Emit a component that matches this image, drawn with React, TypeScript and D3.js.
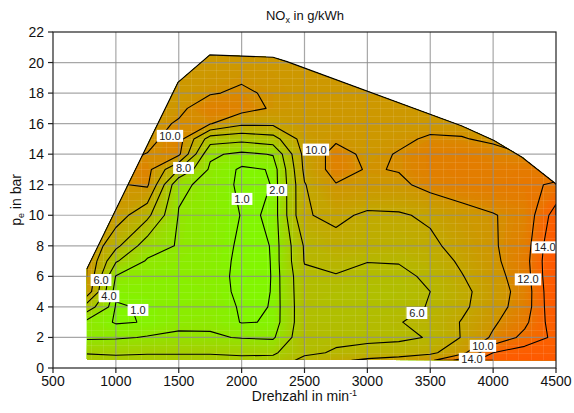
import React, { useMemo } from 'react';
import * as d3 from 'd3';

const W = 574;
const H = 413;
const PLOT = { left: 53, right: 556, top: 32, bottom: 368 };

// Grid axes of the measured map
const RPM = [750, 1000, 1250, 1500, 1750, 2000, 2250, 2500, 2750, 3000, 3250, 3500, 3750, 4000, 4250, 4500];
const PE = [0.5, 1, 2, 3, 4, 5, 6, 7, 8, 10, 12, 13, 14, 15, 16, 17, 18, 20, 22];

// NOx in g/kWh along the load axis (PE), one list per engine speed
const NOX_750 = [4.6, 3.9, 1.7, 1.8, 5.6, 10.0, 10.6, 10.5, 10.2, 9.8, 9.7, 9.6, 9.6, 9.5, 9.5, 9.5, 9.4, 9.4, 9.3];
const NOX_1000 = [4.4, 3.8, 1.8, 0.9, 0.9, 1.2, 1.9, 4.2, 6.5, 9.0, 9.8, 9.7, 9.6, 9.5, 9.5, 9.5, 9.4, 9.4, 9.3];
const NOX_1250 = [4.4, 3.9, 2.1, 1.05, 1.1, 1.25, 1.5, 1.8, 2.9, 6.5, 10.3, 10.6, 10.05, 9.5, 9.5, 9.5, 9.4, 9.4, 9.3];
const NOX_1500 = [4.4, 3.9, 2.3, 1.6, 1.4, 1.35, 1.4, 1.6, 1.85, 1.9, 2.3, 6.0, 10.4, 10.8, 10.15, 9.7, 9.4, 9.4, 9.3];
const NOX_1750 = [4.4, 3.9, 2.2, 1.7, 1.5, 1.4, 1.4, 1.4, 1.45, 1.5, 1.6, 1.7, 2.3, 5.0, 10.1, 10.8, 9.9, 9.4, 9.3];
const NOX_2000 = [4.3, 3.8, 1.9, 0.95, 0.9, 0.8, 0.75, 0.8, 0.85, 0.97, 0.8, 0.85, 1.6, 4.6, 8.4, 10.7, 10.2, 9.5, 9.3];
const NOX_2250 = [4.6, 3.7, 1.75, 1.05, 1.02, 1.02, 1.02, 1.02, 1.02, 1.02, 1.02, 1.05, 2.1, 5.2, 8.4, 9.8, 9.8, 9.5, 9.3];
const NOX_2500 = [6.6, 5.6, 5.5, 5.4, 5.4, 5.5, 5.6, 6.1, 6.2, 7.85, 7.9, 8.4, 8.6, 8.9, 9.3, 9.4, 9.4, 9.4, 9.3];
const NOX_2750 = [7.6, 6.2, 5.6, 5.4, 5.3, 5.4, 5.9, 6.5, 7.4, 8.4, 9.9, 10.8, 10.7, 9.7, 9.4, 9.4, 9.4, 9.4, 9.3];
const NOX_3000 = [8.4, 6.6, 5.6, 5.6, 5.3, 5.3, 5.5, 6.05, 7.1, 7.7, 9.6, 9.85, 9.6, 9.4, 9.4, 9.4, 9.4, 9.4, 9.3];
const NOX_3250 = [9.0, 6.8, 5.7, 5.9, 5.5, 5.4, 5.6, 6.1, 7.0, 7.8, 9.6, 10.1, 10.1, 9.7, 9.4, 9.4, 9.4, 9.4, 9.3];
const NOX_3500 = [9.6, 7.6, 6.1, 6.7, 6.1, 6.0, 6.3, 7.0, 7.6, 8.3, 10.6, 10.9, 10.9, 10.2, 9.5, 9.4, 9.4, 9.4, 9.3];
const NOX_3750 = [12.8, 9.3, 8.1, 8.1, 7.6, 7.5, 7.9, 8.3, 8.7, 9.3, 11.0, 11.1, 11.0, 10.1, 9.5, 9.4, 9.4, 9.4, 9.3];
const NOX_4000 = [15.2, 14.0, 10.3, 9.7, 9.2, 9.0, 9.3, 9.6, 9.8, 9.9, 11.3, 11.1, 10.6, 9.7, 9.5, 9.4, 9.4, 9.4, 9.3];
const NOX_4250 = [15.8, 15.0, 12.6, 11.5, 10.9, 10.8, 11.0, 11.2, 11.0, 10.6, 11.7, 11.5, 10.0, 9.6, 9.5, 9.4, 9.4, 9.4, 9.3];
const NOX_4500 = [16.2, 15.2, 14.5, 15.3, 15.8, 16.0, 16.2, 16.2, 16.0, 15.0, 12.2, 11.2, 10.4, 9.8, 9.6, 9.5, 9.5, 9.4, 9.3];

const NOX_COLUMNS = [
  NOX_750, NOX_1000, NOX_1250, NOX_1500, NOX_1750, NOX_2000, NOX_2250, NOX_2500,
  NOX_2750, NOX_3000, NOX_3250, NOX_3500, NOX_3750, NOX_4000, NOX_4250, NOX_4500,
];

// Isoline levels and their inline labels [value, rpm, pe]
const LEVELS = [1, 2, 4, 6, 8, 10, 12, 14];
const LABELS: [number, number, number][] = [
  [10, 1430, 15.2],
  [8, 1538, 13.1],
  [1, 2003, 11.07],
  [2, 2281, 11.65],
  [10, 2591, 14.3],
  [6, 882, 5.76],
  [4, 945, 4.7],
  [1, 1176, 3.8],
  [6, 3394, 3.6],
  [10, 3919, 1.45],
  [14, 3832, 0.6],
  [12, 4277, 5.8],
  [14, 4412, 7.9],
];

// Operating range of the engine (full-load curve on top)
const MAP_EDGE: [number, number][] = [
  [770, 0.55], [770, 6.5], [1494, 18.7], [1748, 20.5], [2250, 20.35], [2361, 20.06],
  [3752, 15.85], [4007, 14.9], [4230, 13.8], [4500, 12.05], [4500, 0.5],
];

const X_TICKS = [500, 1000, 1500, 2000, 2500, 3000, 3500, 4000, 4500];
const Y_TICKS = [0, 2, 4, 6, 8, 10, 12, 14, 16, 18, 20, 22];

const COLOR_STOPS = [0.5, 1, 2, 4, 6, 8, 9, 9.8, 10.3, 11, 12, 13, 14, 16];
const COLOR_RANGE = ['#7cff00', '#84f400', '#92e400', '#a6cd00', '#b5b800', '#c2a700', '#c99c00', '#cf9500', '#db8700', '#e27e00', '#e97600', '#f26c00', '#fa6300', '#ff5800'];

const FONT = "'Liberation Sans', Arial, Helvetica, sans-serif";

function along(u: number, axis: number[]) {
  const t = Math.max(0, Math.min(axis.length - 1, u - 0.5));
  const i = Math.min(axis.length - 2, Math.floor(t));
  const f = t - i;
  return axis[i] + f * (axis[i + 1] - axis[i]);
}

export default function App() {
  const x = d3.scaleLinear().domain([500, 4500]).range([PLOT.left, PLOT.right]);
  const y = d3.scaleLinear().domain([0, 22]).range([PLOT.bottom, PLOT.top]);
  const color = d3.scaleLinear<string>().domain(COLOR_STOPS).range(COLOR_RANGE).interpolate(d3.interpolateRgb).clamp(true);

  const { fills, lines } = useMemo(() => {
    const n = RPM.length;
    const m = PE.length;
    const values = new Array(n * m);
    for (let j = 0; j < m; j++) for (let i = 0; i < n; i++) values[j * n + i] = NOX_COLUMNS[i][j];
    const gen = d3.contours().size([n, m]);
    const pt = (p: number[]) => `${x(along(p[0], RPM)).toFixed(2)},${y(along(p[1], PE)).toFixed(2)}`;

    const areaPath = (mp: d3.ContourMultiPolygon) =>
      mp.coordinates.map((poly) => poly.map((ring) => 'M' + ring.map(pt).join('L') + 'Z').join('')).join('');

    const onBorder = (p: number[], q: number[]) =>
      (p[0] === 0 && q[0] === 0) || (p[0] === n && q[0] === n) || (p[1] === 0 && q[1] === 0) || (p[1] === m && q[1] === m);

    const linePath = (mp: d3.ContourMultiPolygon) => {
      let d = '';
      for (const poly of mp.coordinates) {
        for (const ring of poly) {
          let pen = false;
          for (let k = 0; k < ring.length - 1; k++) {
            const p = ring[k];
            const q = ring[k + 1];
            if (onBorder(p, q)) { pen = false; continue; }
            if (!pen) { d += 'M' + pt(p); pen = true; }
            d += 'L' + pt(q);
          }
        }
      }
      return d;
    };

    const step = 0.2;
    const fillList: { d: string; c: string }[] = [];
    for (let t = 0; t < 17.6; t += step) {
      const mp = gen.contour(values, t);
      if (mp.coordinates.length) fillList.push({ d: areaPath(mp), c: color(t + step / 2) });
    }
    const lineList = LEVELS.map((lv) => linePath(gen.contour(values, lv)));
    return { fills: fillList, lines: lineList };
  }, []);

  const edgePts = MAP_EDGE.map(([r, p]) => `${x(r)},${y(p)}`).join(' ');
  const fullLoad = d3.line()(MAP_EDGE.slice(1, MAP_EDGE.length - 1).map(([r, p]) => [x(r), y(p)]));

  // faint measurement mesh: 100 rpm x 0.5 bar cells
  const meshX = d3.range(800, 4500, 100);
  const meshY = d3.range(0.5, 21, 0.5);

  return (
    <svg width={W} height={H} style={{ position: 'fixed', left: 0, top: 0, background: '#fff' }} fontFamily={FONT}>
      <defs>
        <clipPath id="mapArea">
          <polygon points={edgePts} />
        </clipPath>
      </defs>

      <g clipPath="url(#mapArea)">
        {fills.map((f, i) => (
          <path key={i} d={f.d} fill={f.c} fillRule="evenodd" />
        ))}
        <g stroke="#fff" strokeOpacity={0.1} strokeWidth={1}>
          {meshX.map((r) => (
            <line key={'mx' + r} x1={Math.round(x(r)) + 0.5} x2={Math.round(x(r)) + 0.5} y1={PLOT.top} y2={PLOT.bottom} />
          ))}
          {meshY.map((p) => (
            <line key={'my' + p} x1={PLOT.left} x2={PLOT.right} y1={Math.round(y(p)) + 0.5} y2={Math.round(y(p)) + 0.5} />
          ))}
        </g>
      </g>

      {/* grid */}
      <g stroke="#8a8a8a" strokeOpacity={0.75} strokeWidth={1.2}>
        {X_TICKS.slice(1, -1).map((t) => (
          <line key={'gx' + t} x1={x(t)} x2={x(t)} y1={PLOT.top} y2={PLOT.bottom} />
        ))}
        {Y_TICKS.slice(1, -1).map((t) => (
          <line key={'gy' + t} x1={PLOT.left} x2={PLOT.right} y1={y(t)} y2={y(t)} />
        ))}
      </g>

      <g clipPath="url(#mapArea)" fill="none" stroke="#000" strokeWidth={1.1} strokeLinejoin="round">
        {lines.map((d, i) => (
          <path key={i} d={d} />
        ))}
      </g>

      <path d={fullLoad || ''} fill="none" stroke="#000" strokeWidth={1.1} />

      {/* isoline labels */}
      <g fontSize={11}>
        {LABELS.map(([v, r, p], i) => {
          const txt = v.toFixed(1);
          const w = txt.length * 5.6 + 4;
          return (
            <g key={i} transform={`translate(${x(r)},${y(p)})`}>
              <rect x={-w / 2} y={-6} width={w} height={12} fill="#fff" />
              <text textAnchor="middle" dy="0.36em" fill="#222">{txt}</text>
            </g>
          );
        })}
      </g>

      {/* frame and axes */}
      <rect x={PLOT.left} y={PLOT.top} width={PLOT.right - PLOT.left} height={PLOT.bottom - PLOT.top} fill="none" stroke="#222" strokeWidth={1.2} />
      <g stroke="#222" strokeWidth={1.2}>
        {X_TICKS.map((t) => (
          <line key={'tx' + t} x1={x(t)} x2={x(t)} y1={PLOT.bottom} y2={PLOT.bottom + 5} />
        ))}
        {Y_TICKS.map((t) => (
          <line key={'ty' + t} x1={PLOT.left - 5} x2={PLOT.left} y1={y(t)} y2={y(t)} />
        ))}
      </g>
      <g fontSize={14} fill="#111">
        {X_TICKS.map((t) => (
          <text key={'lx' + t} x={x(t)} y={386} textAnchor="middle">{t}</text>
        ))}
        {Y_TICKS.map((t) => (
          <text key={'ly' + t} x={44} y={y(t)} dy="0.36em" textAnchor="end">{t}</text>
        ))}
      </g>

      <text x={(PLOT.left + PLOT.right) / 2} y={401} textAnchor="middle" fontSize={14} fill="#111">
        Drehzahl in min<tspan fontSize={9} dy={-5}>-1</tspan>
      </text>
      <text transform={`translate(21,200) rotate(-90)`} textAnchor="middle" fontSize={14} fill="#111">
        p<tspan fontSize={9} dy={3}>e</tspan><tspan dy={-3}> in bar</tspan>
      </text>
      <text x={305} y={20} textAnchor="middle" fontSize={13} fill="#111">
        NO<tspan fontSize={9} dy={3}>x</tspan><tspan dy={-3}> in g/kWh</tspan>
      </text>
    </svg>
  );
}
